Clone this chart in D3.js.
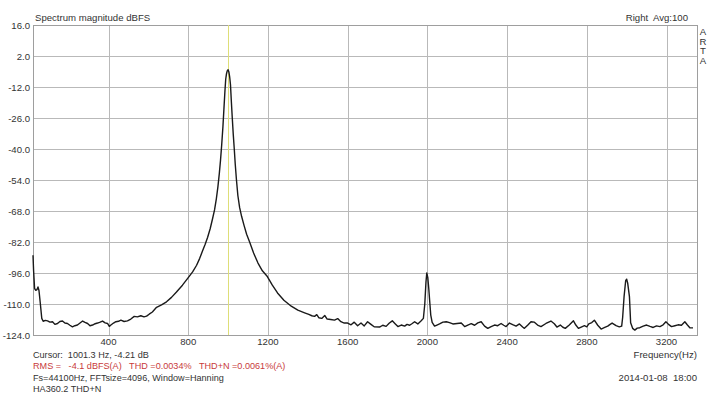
<!DOCTYPE html>
<html>
<head>
<meta charset="utf-8">
<script src="https://cdn.jsdelivr.net/npm/d3@7"></script>
<style>
  body { margin: 0; background: #fff; }
  svg { font-family: "Liberation Sans", Arial, sans-serif; }
  .lbl { fill: #333; font-size: 9.6px; white-space: pre; }
  .info { font-size: 9.1px; }
</style>
</head>
<body>
<div id="chart"></div>
<script>
"use strict";

// spectrum: [frequency Hz, level dBFS]
const spectrum = [
  [21, -88], [24, -95], [29, -103], [35, -103.8], [41, -103.5], [46, -102.3], [51, -103.9],
  [58, -110], [65, -116.5], [72, -117.8], [83, -117.4], [94, -117.6], [106, -118.2], [119, -118.0],
  [131, -119.2], [144, -118.8], [156, -117.9], [169, -117.7], [181, -118.6], [194, -118.8],
  [206, -119.6], [219, -120.3], [231, -119.8], [244, -119.5], [257, -118.6], [270, -117.7],
  [282, -118.3], [295, -118.8], [307, -119.8], [320, -119.5], [333, -118.9], [345, -118.6],
  [358, -118.2], [370, -117.7], [383, -118.5], [395, -118.8], [404, -120.1], [412, -119.5],
  [425, -118.6], [437, -118.0], [450, -117.8], [462, -117.3], [478, -117.9], [495, -117.6],
  [512, -116.8], [529, -115.6], [545, -115.8], [562, -115.3], [578, -115.8], [591, -115.5],
  [604, -114.6], [620, -113.6], [641, -111.5], [666, -110.4], [691, -109], [716, -107],
  [741, -104.6], [771, -101.5], [801, -98], [822, -95.5], [842, -92.5], [857, -89.5],
  [872, -86], [885, -83], [897, -80], [910, -76], [922, -71.5], [932, -67.5], [941, -62.5],
  [949, -57], [956, -51], [962, -45], [968, -38], [974, -30], [979, -22], [984, -14],
  [988, -8.5], [992, -6], [996, -4.6], [1000, -4.2], [1004, -5.2], [1008, -7.5], [1012, -11],
  [1016, -18], [1021, -26], [1026, -33.5], [1031, -40], [1036, -47], [1042, -54], [1049, -61],
  [1058, -66.5], [1068, -70.5], [1080, -74.5], [1093, -78.5], [1108, -82], [1128, -87],
  [1150, -91.5], [1172, -95], [1197, -97.6],
  [1222, -101.5], [1248, -105], [1280, -108.3], [1317, -111], [1350, -112.8], [1384, -114],
  [1405, -114.7], [1420, -115.3], [1434, -115.6], [1445, -114.8], [1455, -116.2], [1470, -116.5],
  [1485, -115.2], [1497, -116.8], [1515, -117.0], [1534, -117.3], [1550, -116.6], [1566, -118.0],
  [1583, -118.6], [1600, -118.6], [1617, -119.4], [1633, -118.2], [1650, -119.8], [1667, -118.6],
  [1683, -119.9], [1700, -118.0], [1717, -119.2], [1733, -120.3], [1760, -120.4], [1776, -119.6],
  [1793, -120.1], [1808, -118.7], [1824, -117.6], [1838, -118.9], [1852, -120.2], [1869, -119.5],
  [1886, -120.0], [1898, -119.2], [1911, -119.6], [1924, -118.8], [1936, -118.0], [1952, -119.0],
  [1969, -117.6], [1980, -116.5], [1987, -110], [1993, -100], [1997, -96], [2002, -98],
  [2007, -103], [2011, -108], [2017, -115], [2024, -118.3], [2036, -120.0], [2048, -119.5],
  [2061, -119.0], [2078, -118.2], [2095, -118.0], [2111, -118.4], [2128, -119.0], [2149, -118.8],
  [2170, -118.6], [2187, -120.2], [2203, -119.5], [2220, -118.9], [2237, -119.6], [2253, -118.5],
  [2270, -118.0], [2287, -120.0], [2303, -121.0], [2320, -120.2], [2337, -119.5], [2353, -119.8],
  [2370, -118.8], [2383, -119.6], [2395, -120.2], [2412, -118.6], [2428, -119.3], [2445, -120.0],
  [2462, -119.0], [2478, -120.4], [2487, -121.0], [2503, -119.6], [2520, -118.0], [2537, -118.2],
  [2553, -119.5], [2570, -120.2], [2595, -118.8], [2620, -117.7], [2637, -118.9], [2650, -120.4],
  [2667, -119.5], [2680, -120.5], [2692, -121.0], [2712, -119.5], [2733, -117.6], [2745, -119.5],
  [2758, -121.0], [2772, -120.4], [2788, -119.8], [2800, -120.3], [2810, -119.0], [2825, -118.4],
  [2838, -117.3], [2855, -119.6], [2872, -121.3], [2890, -120.6], [2905, -120.0], [2917, -119.2],
  [2927, -118.6], [2947, -119.8], [2963, -120.3], [2975, -120.0], [2980, -116], [2987, -106.7],
  [2995, -99.5], [3000, -98.8], [3005, -100.5], [3014, -106.7], [3020, -118.5], [3030, -121.0],
  [3041, -121.8], [3053, -120.9], [3066, -120.7], [3083, -120.0], [3100, -119.5], [3117, -120.1],
  [3133, -120.6], [3150, -119.9], [3167, -120.2], [3183, -119.4], [3197, -118.0], [3210, -119.2],
  [3225, -120.2], [3242, -119.8], [3258, -119.4], [3275, -119.6], [3292, -118.0], [3305, -119.5],
  [3317, -120.7], [3333, -120.8]
];

const yTicks = [16, 2, -12, -26, -40, -54, -68, -82, -96, -110, -124];
const xTicks = [400, 800, 1200, 1600, 2000, 2400, 2800, 3200];
const cursorFreq = 1001.3;

const infoLines = [
  { text: "Cursor:  1001.3 Hz, -4.21 dB", color: "#333" },
  { text: "RMS =   -4.1 dBFS(A)   THD =0.0034%   THD+N =0.0061%(A)", color: "#c83a3a" },
  { text: "Fs=44100Hz, FFTsize=4096, Window=Hanning", color: "#333" },
  { text: "HA360.2 THD+N", color: "#333" }
];

const W = 707, H = 394;
const plotL = 33, plotR = 697, plotT = 25, plotB = 335;

const svg = d3.select("#chart").append("svg")
  .attr("width", W)
  .attr("height", H);

const x = d3.scaleLinear().domain([21, 3353]).range([plotL, plotR]);
const y = d3.scaleLinear().domain([-124, 16]).range([plotB, plotT]);

// grid
const grid = svg.append("g").attr("stroke", "#b9b9b9").attr("stroke-width", 1);
grid.selectAll("line.h").data(yTicks).join("line")
  .attr("class", "h")
  .attr("x1", plotL).attr("x2", plotR)
  .attr("y1", d => Math.round(y(d)) + 0.5).attr("y2", d => Math.round(y(d)) + 0.5);
grid.selectAll("line.v").data(xTicks).join("line")
  .attr("class", "v")
  .attr("y1", plotT).attr("y2", plotB)
  .attr("x1", d => Math.round(x(d)) + 0.5).attr("x2", d => Math.round(x(d)) + 0.5);

// frame
svg.append("rect")
  .attr("x", plotL + 0.5).attr("y", plotT + 0.5)
  .attr("width", plotR - plotL).attr("height", plotB - plotT)
  .attr("fill", "none").attr("stroke", "#9e9e9e");

// y labels
svg.append("g").selectAll("text").data(yTicks).join("text")
  .attr("class", "lbl")
  .attr("x", plotL - 3)
  .attr("y", d => y(d) + 3.5)
  .attr("text-anchor", "end")
  .text(d => d.toFixed(1));

// x labels
svg.append("g").selectAll("text").data(xTicks).join("text")
  .attr("class", "lbl")
  .attr("x", d => x(d))
  .attr("y", plotB + 10)
  .attr("text-anchor", "middle")
  .text(d => d);

// cursor line
svg.append("line")
  .attr("x1", Math.round(x(cursorFreq)) + 0.5).attr("x2", Math.round(x(cursorFreq)) + 0.5)
  .attr("y1", plotT).attr("y2", plotB)
  .attr("stroke", "#dede78").attr("stroke-width", 1);

// spectrum curve
const line = d3.line()
  .x(d => x(d[0]))
  .y(d => y(d[1]));

svg.append("path")
  .datum(spectrum)
  .attr("d", line)
  .attr("fill", "none")
  .attr("stroke", "#1a1a1a")
  .attr("stroke-width", 1.4)
  .attr("stroke-linejoin", "round");

// titles
svg.append("text").attr("class", "lbl")
  .attr("x", 35).attr("y", 21)
  .text("Spectrum magnitude dBFS");

svg.append("text").attr("class", "lbl")
  .attr("x", 688).attr("y", 21)
  .attr("text-anchor", "end")
  .text("Right  Avg:100");

svg.append("g").selectAll("text").data(["A", "R", "T", "A"]).join("text")
  .attr("class", "lbl")
  .attr("x", 703).attr("y", (d, i) => 35 + i * 9.5)
  .attr("text-anchor", "middle")
  .text(d => d);

svg.append("text").attr("class", "lbl")
  .attr("x", plotR).attr("y", 358)
  .attr("text-anchor", "end")
  .text("Frequency(Hz)");

svg.append("text").attr("class", "lbl")
  .attr("x", plotR).attr("y", 381)
  .attr("text-anchor", "end")
  .text("2014-01-08  18:00");

// info block under the plot
svg.append("g").selectAll("text").data(infoLines).join("text")
  .attr("class", "lbl info")
  .attr("x", plotL)
  .attr("y", (d, i) => 358 + i * 11.3)
  .style("fill", d => d.color)
  .text(d => d.text);
</script>
</body>
</html>
